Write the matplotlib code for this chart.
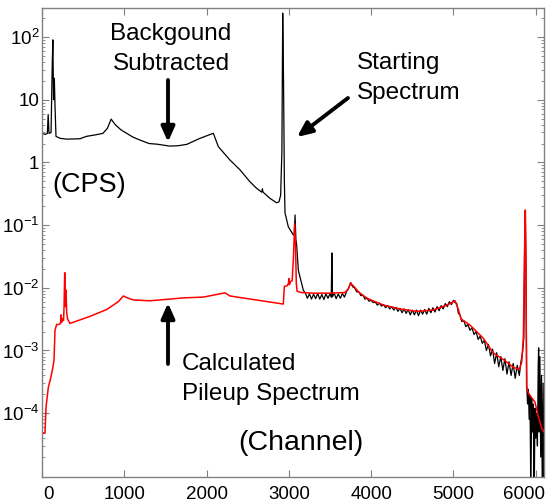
import numpy as np
import matplotlib
matplotlib.use("Agg")
import matplotlib.pyplot as plt
import matplotlib.transforms as mtransforms
from matplotlib.ticker import FixedLocator, FixedFormatter, LogLocator, NullFormatter

plt.rcParams['font.family'] = ['Liberation Sans', 'DejaVu Sans']
plt.rcParams['mathtext.fontset'] = 'custom'
plt.rcParams['mathtext.rm'] = 'Liberation Sans'
plt.rcParams['mathtext.it'] = 'Liberation Sans:italic'

# starting spectrum, smooth upper part (channel, CPS)
start_ch = [0, 40, 65, 75, 85, 110, 125, 132, 140, 150, 158, 170, 220, 300, 460, 540,
            650, 740, 795, 840, 890, 960, 1030, 1100, 1190, 1300, 1400, 1550, 1650,
            1760, 1920, 2000, 2082, 2143, 2284, 2406, 2527, 2608, 2670, 2678, 2686,
            2770, 2851, 2880, 2900, 2915, 2925, 2935, 2945, 2953, 2993, 3054, 3065,
            3075, 3085, 3095, 3115, 3135, 3175]
start_cps = [2.9, 2.8, 2.9, 5.8, 2.9, 3.0, 40, 90, 10, 22, 8, 2.6, 2.42, 2.35, 2.38, 2.6,
             2.75, 2.9, 3.5, 4.9, 4.0, 3.3, 2.9, 2.55, 2.27, 2.0, 1.95, 1.82, 1.84,
             1.94, 2.42, 2.65, 2.91, 1.78, 1.09, 0.76, 0.49, 0.386, 0.335, 0.38, 0.335,
             0.267, 0.227, 0.235, 0.3, 1.5, 240, 20, 0.5, 0.156, 0.094, 0.0695, 0.072,
             0.145, 0.06, 0.047, 0.019, 0.015, 0.0092]

# starting spectrum, noisy tail
tail_ch = [3200, 3225, 3250, 3275, 3300, 3325, 3350, 3375, 3400, 3425, 3450, 3475, 3500,
           3515, 3522, 3530, 3550, 3575, 3600, 3625, 3650, 3675, 3700, 3725, 3750, 3775,
           3800, 3825, 3850, 3875, 3900, 3925, 3950, 3975, 4000, 4025, 4050, 4075, 4100,
           4125, 4150, 4175, 4200, 4225, 4250, 4275, 4300, 4325, 4350, 4375, 4400, 4425,
           4450, 4475, 4500, 4525, 4550, 4575, 4600, 4625, 4650, 4675, 4700, 4725, 4750,
           4775, 4800, 4825, 4850, 4875, 4900, 4925, 4950, 4975, 5000, 5020, 5040, 5060,
           5080, 5100, 5125, 5150, 5175, 5200, 5225, 5250, 5275, 5300, 5325, 5350, 5375,
           5400, 5425, 5450, 5475, 5500, 5525, 5550, 5575, 5600, 5625, 5650, 5675, 5700,
           5725, 5750, 5775, 5800, 5820, 5840, 5855, 5865, 5873, 5881, 5890, 5900, 5910,
           5920, 5930, 5940, 5950, 5960, 5970, 5980, 5990, 6000, 6010, 6020, 6030, 6035,
           6040, 6050, 6060, 6070, 6080, 6090, 6100]
tail_cps = [0.0082, 0.0068, 0.0080, 0.0066, 0.0079, 0.0067, 0.0081, 0.0066, 0.0078, 0.0065,
            0.0080, 0.0068, 0.0081, 0.0070, 0.036, 0.0072, 0.0082, 0.0067, 0.0080, 0.0068,
            0.0081, 0.0071, 0.0087, 0.0098, 0.0121, 0.0104, 0.0099, 0.0086, 0.0086, 0.0075,
            0.0076, 0.0066, 0.0068, 0.0061, 0.0063, 0.0058, 0.0059, 0.0053, 0.0057, 0.0051,
            0.0054, 0.0048, 0.0052, 0.0046, 0.0050, 0.0044, 0.0049, 0.0042, 0.0047, 0.0040,
            0.0046, 0.0039, 0.0045, 0.0037, 0.0044, 0.0037, 0.0044, 0.0036, 0.0044, 0.0038,
            0.0045, 0.0038, 0.0047, 0.0040, 0.0048, 0.0041, 0.0050, 0.0043, 0.0052, 0.0046,
            0.0056, 0.0050, 0.0060, 0.0054, 0.0063, 0.0058, 0.0056, 0.0039, 0.0037, 0.0029,
            0.0030, 0.0024, 0.0026, 0.0021, 0.0023, 0.0018, 0.0020, 0.0015, 0.0017, 0.0013,
            0.00145, 0.0010, 0.00125, 0.00082, 0.00105, 0.00062, 0.00092, 0.00055, 0.00080,
            0.00048, 0.00074, 0.00042, 0.00066, 0.00040, 0.00062, 0.00036, 0.00058, 0.00040,
            0.00066, 0.00095, 0.0016, 0.05, 0.17, 0.02, 0.00028, 0.00014, 0.00024, 0.00008,
            0.00019, 0.000004, 0.00017, 0.00005, 0.00014, 0.000003, 0.00012, 0.00004, 0.0001,
            0.00003, 0.0006, 0.0011, 0.00005, 0.0008, 0.00002, 0.0004, 0.000004, 0.0003,
            0.000003]

# calculated pileup spectrum
pileup_ch = [0, 36, 49, 77, 105, 130, 146, 158, 178, 205, 225, 231, 237, 250, 262, 268,
             276, 284, 292, 300, 310, 340, 583, 786, 927, 988, 1050, 1110, 1312, 1717,
             1960, 2224, 2284, 2932, 2945, 2980, 2995, 3000, 3006, 3020, 3040, 3055, 3070,
             3080, 3090, 3100, 3150, 3300, 3500, 3680, 3720, 3750, 3790, 3850, 3950, 4150,
             4350, 4550, 4750, 4920, 5020, 5060, 5090, 5200, 5362, 5484, 5605, 5727, 5800,
             5829, 5849, 5865, 5873, 5880, 5889, 5909, 5990, 6030, 6072, 6112]
pileup_cps = [4.8e-5, 4.8e-5, 1.25e-4, 2.6e-4, 3.6e-4, 5.2e-4, 7e-4, 2.1e-3, 2.6e-3,
              2.6e-3, 2.7e-3, 3.7e-3, 2.8e-3, 3.2e-3, 3.0e-3, 5e-3, 0.0174, 0.005, 0.0092,
              0.004, 0.0032, 0.0027, 0.0035, 0.0045, 0.006, 0.0074, 0.0068, 0.0064, 0.0062,
              0.0069, 0.0071, 0.0083, 0.0074, 0.0055, 0.0105, 0.0108, 0.0118, 0.0140,
              0.0112, 0.0125, 0.0130, 0.03, 0.105, 0.05, 0.012, 0.0088, 0.0084, 0.0082,
              0.0082, 0.0084, 0.0095, 0.0118, 0.0105, 0.0085, 0.0068, 0.0053, 0.0046,
              0.0042, 0.0044, 0.0053, 0.0062, 0.0045, 0.0032, 0.00255, 0.00157, 0.00091,
              0.00072, 0.00054, 0.0005, 0.00065, 0.0016, 0.05, 0.174, 0.03, 0.00026,
              0.00021, 0.00015, 0.00009, 0.000057, 0.000048]

xtick_vals = [0, 1000, 2000, 3000, 4000, 5000, 6000]
ytick_vals = [1e2, 1e1, 1e0, 1e-1, 1e-2, 1e-3, 1e-4]
ytick_labels = [r'$\mathregular{10^{2}}$', '10', '1', r'$\mathregular{10^{-1}}$',
                r'$\mathregular{10^{-2}}$', r'$\mathregular{10^{-3}}$',
                r'$\mathregular{10^{-4}}$']

W, H = 551, 504
fig = plt.figure(figsize=(W / 100, H / 100), dpi=100)
ax = fig.add_axes([42 / W, 27.3 / H, 502 / W, 468.7 / H])

black_ch = start_ch + tail_ch
black_cps = start_cps + tail_cps
ax.plot(black_ch, black_cps, color='black', lw=0.9)
ax.plot(pileup_ch, pileup_cps, color='red', lw=1.1)

ax.set_yscale('log')
ax.set_xlim(0, 6100)
ax.set_ylim(9.7e-6, 290)
ax.xaxis.set_major_locator(FixedLocator(xtick_vals))
ax.yaxis.set_major_locator(FixedLocator(ytick_vals))
ax.yaxis.set_major_formatter(FixedFormatter(ytick_labels))
ax.yaxis.set_minor_locator(LogLocator(base=10, subs=np.arange(2, 10), numticks=20))
ax.yaxis.set_minor_formatter(NullFormatter())

gray = '#808080'
for s in ax.spines.values():
    s.set_color(gray)
    s.set_linewidth(1.0)
ax.tick_params(which='both', direction='in', top=True, right=True, color=gray,
               labelsize=13.5, labelcolor='black')
ax.tick_params(which='major', length=5)
ax.tick_params(which='minor', length=2.5)
ax.tick_params(axis='x', pad=7)
ax.tick_params(axis='y', pad=2)

# keep the end labels inside the figure, as in the original
xlabels = ax.get_xticklabels()
xlabels[0].set_ha('left')
xlabels[0].set_transform(xlabels[0].get_transform() +
                         mtransforms.ScaledTranslation(1 / 100, 0, fig.dpi_scale_trans))
xlabels[-1].set_ha('right')
xlabels[-1].set_transform(xlabels[-1].get_transform() +
                          mtransforms.ScaledTranslation(9 / 100, 0, fig.dpi_scale_trans))


def fpos(px, py):
    # pixel position in the picture -> figure fraction
    return (px / W, 1 - py / H)


arrow = dict(arrowstyle='-|>,head_length=0.9,head_width=0.4', lw=2.8, color='black',
             shrinkA=0, shrinkB=0)

fig.text(*fpos(171, 49), 'Backgound\nSubtracted', ha='center', va='center',
         fontsize=17.5, linespacing=1.45)
ax.annotate('', xy=fpos(168, 142), xytext=fpos(168, 80), xycoords='figure fraction',
            textcoords='figure fraction', arrowprops=arrow)

fig.text(*fpos(357, 78), 'Starting\nSpectrum', ha='left', va='center',
         fontsize=17.5, linespacing=1.45)
ax.annotate('', xy=fpos(297, 137), xytext=fpos(348, 98), xycoords='figure fraction',
            textcoords='figure fraction', arrowprops=arrow)

fig.text(*fpos(52, 185), '(CPS)', ha='left', va='center', fontsize=19.5)

fig.text(*fpos(182, 379), 'Calculated\nPileup Spectrum', ha='left', va='center',
         fontsize=17.5, linespacing=1.45)
ax.annotate('', xy=fpos(168, 303), xytext=fpos(168, 364), xycoords='figure fraction',
            textcoords='figure fraction', arrowprops=arrow)

fig.text(*fpos(301, 443), '(Channel)', ha='center', va='center', fontsize=20.5)

fig.savefig('out.png', dpi=100)
